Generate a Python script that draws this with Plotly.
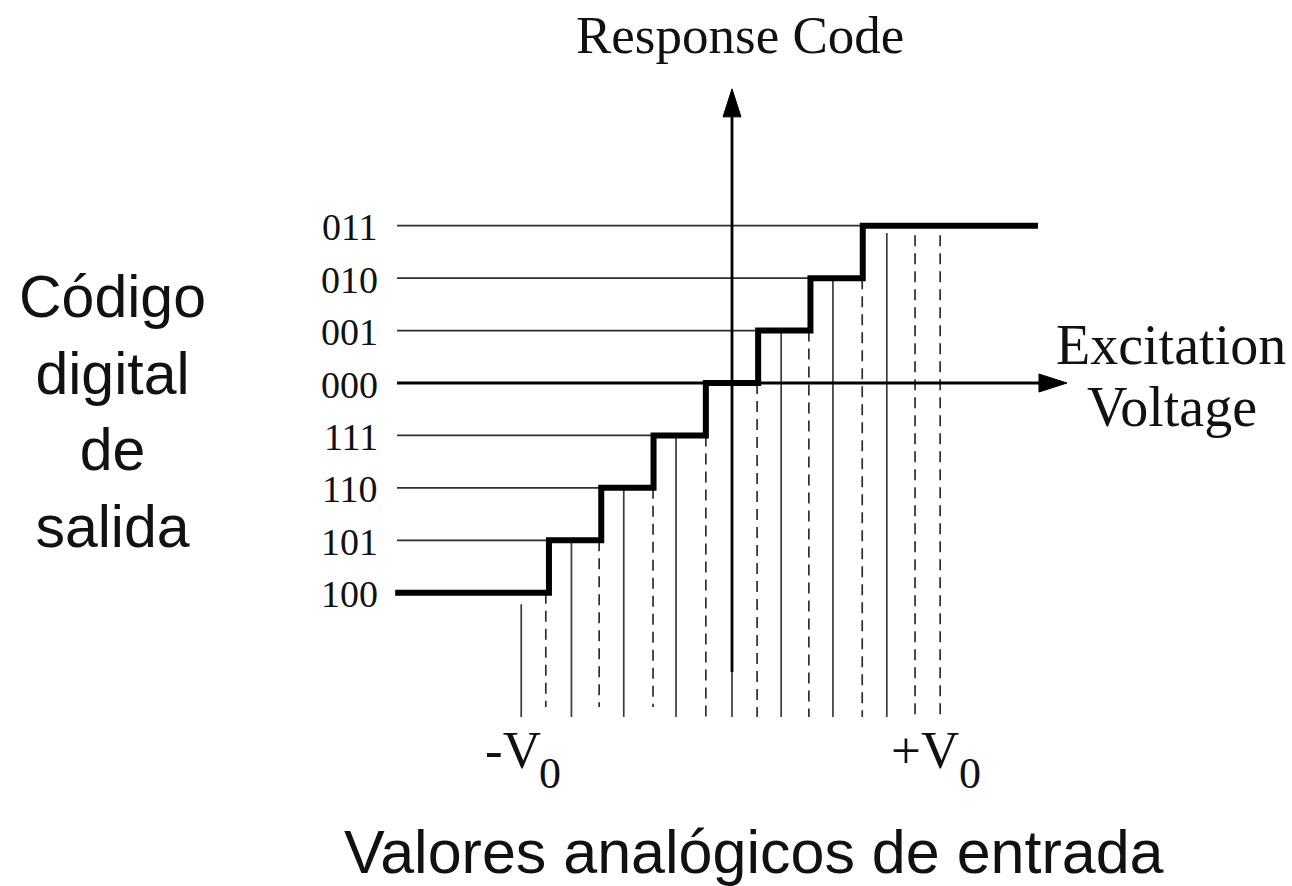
import plotly.graph_objects as go

# ---------------- page / scale ----------------
W, H = 1292, 886
X0PX, UX = 732.0, 52.3     # pixel of x=0 and pixels per LSB
Y0PX, UY = 383.0, 52.43    # pixel of code 000 and pixels per code step

# ---------------- data ----------------
codes = ["100", "101", "110", "111", "000", "001", "010", "011"]
levels = [-4, -3, -2, -1, 0, 1, 2, 3]
transitions = [-3.5, -2.5, -1.5, -0.5, 0.5, 1.5, 2.5]
step_start = -6.44
step_end = 5.85
grid_left = -6.405

solid_x = [-4.03, -3.07, -2.07, -1.07, 0.0, 0.94, 1.93, 2.96]
solid_top = [-4.22, -3, -2, -1, -5.5, 1, 2, 2.86]
solid_bottom = [-6.37] * 8

dashed_x = [-3.56, -2.54, -1.51, -0.50, 0.48, 1.47, 2.49, 3.50, 3.98]
dashed_top = [-4, -3, -2, -1, 0, 1, 2, 2.82, 2.82]
dashed_bottom = [-6.18, -6.18, -6.18, -6.37, -6.37, -6.37, -6.37, -6.37, -6.37]

yaxis_bottom, yaxis_tip = -5.51, 5.61
xaxis_tip = 6.405
arrow_len_px, arrow_half_px = 28, 9

SERIF = "Liberation Serif, Times New Roman, serif"
SANS = "Liberation Sans, Arial, sans-serif"

fig = go.Figure()

def segs(pairs):
    xs, ys = [], []
    for (xa, ya, xb, yb) in pairs:
        xs += [xa, xb, None]
        ys += [ya, yb, None]
    return xs, ys

# thin horizontal code lines
gx, gy = segs([(grid_left, L, L - 0.5, L) for L in levels if L not in (-4, 0)])
fig.add_trace(go.Scatter(x=gx, y=gy, mode="lines", line=dict(color="#2e2e2e", width=1.8),
                         hoverinfo="skip"))

# solid vertical lines
sx, sy = segs([(x, t, x, b) for x, t, b in zip(solid_x, solid_top, solid_bottom)])
fig.add_trace(go.Scatter(x=sx, y=sy, mode="lines", line=dict(color="#3a3a3a", width=1.7),
                         hoverinfo="skip"))

# dashed vertical lines
dx, dy = segs([(x, t, x, b) for x, t, b in zip(dashed_x, dashed_top, dashed_bottom)])
fig.add_trace(go.Scatter(x=dx, y=dy, mode="lines",
                         line=dict(color="#2e2e2e", width=1.7, dash="11px,7px"),
                         hoverinfo="skip"))

# axes
v_base = yaxis_tip - arrow_len_px / UY
h_base = xaxis_tip - arrow_len_px / UX
ax_x, ax_y = segs([(0, yaxis_bottom, 0, v_base + 0.05), (grid_left, 0, h_base + 0.05, 0)])
fig.add_trace(go.Scatter(x=ax_x, y=ax_y, mode="lines", line=dict(color="black", width=2.8),
                         hoverinfo="skip"))

# arrow heads
hx = arrow_half_px / UX
hy = arrow_half_px / UY
fig.add_trace(go.Scatter(x=[-hx, hx, 0, -hx], y=[v_base, v_base, yaxis_tip, v_base],
                         mode="lines", fill="toself", fillcolor="black",
                         line=dict(color="black", width=1), hoverinfo="skip"))
fig.add_trace(go.Scatter(x=[h_base, h_base, xaxis_tip, h_base], y=[-hy, hy, 0, -hy],
                         mode="lines", fill="toself", fillcolor="black",
                         line=dict(color="black", width=1), hoverinfo="skip"))

# staircase transfer function
fig.add_trace(go.Scatter(x=[step_start] + transitions + [step_end],
                         y=levels + [levels[-1]],
                         mode="lines", line=dict(color="black", width=6, shape="hv"),
                         hoverinfo="skip"))

# ---------------- text ----------------
def ann(text, xpx, ypx, size, family, xanchor="center", yanchor="middle"):
    return dict(text=text, x=xpx / W, y=1 - ypx / H, xref="paper", yref="paper",
                showarrow=False, xanchor=xanchor, yanchor=yanchor,
                font=dict(size=size, family=family, color="#111111"))

annotations = []
for c, L in zip(codes, levels):
    annotations.append(dict(text=c, x=-6.73, y=L, xref="x", yref="y", showarrow=False,
                            xanchor="right", yanchor="middle", yshift=-1.5,
                            font=dict(size=38, family=SERIF, color="#111111")))

annotations += [
    ann("Response Code", 740, 35, 53, SERIF),
    ann("Excitation", 1171, 344.5, 56, SERIF),
    ann("Voltage", 1172, 406.5, 56, SERIF),
    ann("Código<br>digital<br>de<br>salida", 112, 412, 59, SANS),
    ann("Valores analógicos de entrada", 754, 852, 61, SANS),
    ann("-V", 543, 750, 53, SERIF, xanchor="right"),
    ann("0", 537, 773, 44, SERIF, xanchor="left"),
    ann("+V", 961, 750, 53, SERIF, xanchor="right"),
    ann("0", 957, 773, 44, SERIF, xanchor="left"),
]

fig.update_layout(
    width=W, height=H,
    margin=dict(l=0, r=0, t=0, b=0),
    paper_bgcolor="white", plot_bgcolor="white",
    showlegend=False,
    xaxis=dict(visible=False, range=[(0 - X0PX) / UX, (W - X0PX) / UX]),
    yaxis=dict(visible=False, range=[(Y0PX - H) / UY, Y0PX / UY]),
    annotations=annotations,
)

fig.write_html("out.html", config={"displayModeBar": False},
               post_script="document.body.style.margin='0';document.body.style.overflow='hidden';")
